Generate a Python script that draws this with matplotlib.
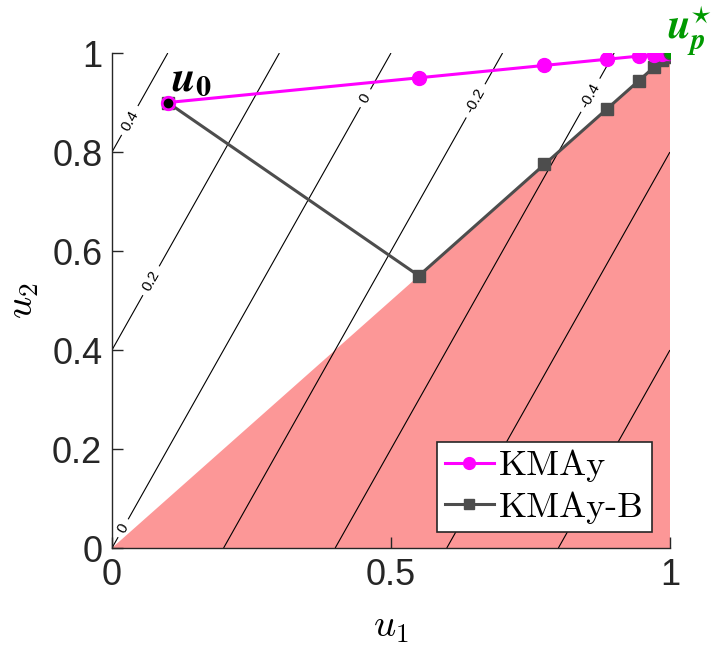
"""Contour plot of the objective with KMAy and KMAy-B iterates."""

import matplotlib

matplotlib.use("Agg")
import matplotlib.pyplot as plt
import numpy as np

# Iterates
kmay_u1 = [0.1, 0.55, 0.775, 0.8875, 0.94375, 0.971875, 0.985938, 0.992969, 0.996484, 0.998242, 1.0]
kmay_u2 = [0.9, 0.95, 0.975, 0.9875, 0.99375, 0.996875, 0.998438, 0.999219, 0.999609, 0.999805, 1.0]
kmayb_u1 = [0.1, 0.55, 0.775, 0.8875, 0.94375, 0.971875, 0.985938, 0.992969, 0.996484, 1.0]
kmayb_u2 = [0.9, 0.55, 0.775, 0.8875, 0.94375, 0.971875, 0.985938, 0.992969, 0.996484, 1.0]

u0 = (0.1, 0.9)
u_star = (1.0, 1.0)

# contour f(u) = 0.5*u2 - u1
contour_levels = [-0.8, -0.6, -0.4, -0.2, 0.0, 0.2, 0.4]
label_spots = [(0.03, 0.865), (0.07, 0.54), (0.46, 0.905), (0.02, 0.04),
               (0.665, 0.895), (0.857, 0.915)]

# infeasible region u2 <= u1
region_u1 = [0.0, 1.0, 1.0]
region_u2 = [0.0, 0.0, 1.0]

plt.rcParams["mathtext.fontset"] = "cm"
plt.rcParams["font.family"] = ["Liberation Sans", "DejaVu Sans"]

fig = plt.figure(figsize=(7.16, 6.5), dpi=100)
ax = fig.add_axes([0.1564, 0.1569, 0.7793, 0.7615])

g = np.linspace(0, 1, 401)
U1, U2 = np.meshgrid(g, g)
Z = 0.5 * U2 - U1
cs = ax.contour(U1, U2, Z, levels=contour_levels, colors="black", linewidths=0.8,
                linestyles="solid", zorder=2)
ax.clabel(cs, manual=label_spots, fontsize=11, inline=True, inline_spacing=6,
          fmt=lambda v: f"{v:g}" if abs(v) > 1e-9 else "0")

ax.fill(region_u1, region_u2, color="#fc9797", lw=0, zorder=1)

ax.plot(kmay_u1, kmay_u2, "-o", color="#ff00ff", lw=2.2, ms=10, zorder=4, label="KMAy")
ax.plot(kmayb_u1, kmayb_u2, "-s", color="#4d4d4d", lw=2.2, ms=8, zorder=3, label="KMAy-B")
ax.plot(*u0, "o", color="black", mec="#ff00ff", ms=8, zorder=5)
ax.plot(*u_star, "o", color="#009900", mec="#4d4d4d", ms=9, zorder=6)

ax.text(0.105, 0.925, r"$\mathbfit{u}_\mathbf{0}$", fontsize=31, color="black",
        math_fontfamily="stix", zorder=7)
ax.text(0.995, 1.03, r"$\mathbfit{u}_\mathbfit{p}^{\star}$", fontsize=30, color="#009900",
        math_fontfamily="stix", zorder=7, clip_on=False)

ax.set_xlim(0, 1)
ax.set_ylim(0, 1)
ax.set_xticks([0, 0.5, 1])
ax.set_xticklabels(["0", "0.5", "1"])
ax.set_yticks([0, 0.2, 0.4, 0.6, 0.8, 1])
ax.set_yticklabels(["0", "0.2", "0.4", "0.6", "0.8", "1"])
ax.tick_params(direction="in", length=8, width=1, labelsize=26, colors="#262626", pad=7)
for side in ("top", "right"):
    ax.spines[side].set_visible(False)
for side in ("left", "bottom"):
    ax.spines[side].set_color("#262626")
    ax.spines[side].set_linewidth(1)

ax.set_xlabel(r"$u_1$", fontsize=28, labelpad=12)
ax.set_ylabel(r"$u_2$", fontsize=28, labelpad=8)

leg = ax.legend(loc="lower right", bbox_to_anchor=(0.968, 0.033), prop={"family": "cmr10", "size": 26},
                fancybox=False, framealpha=1, edgecolor="#262626", borderpad=0.22,
                handlelength=1.35, handletextpad=0.15, labelspacing=0.25, borderaxespad=0,
                markerscale=0.85)
leg.get_frame().set_linewidth(1.2)
leg.set_zorder(10)

fig.savefig("out.png", dpi=100)
